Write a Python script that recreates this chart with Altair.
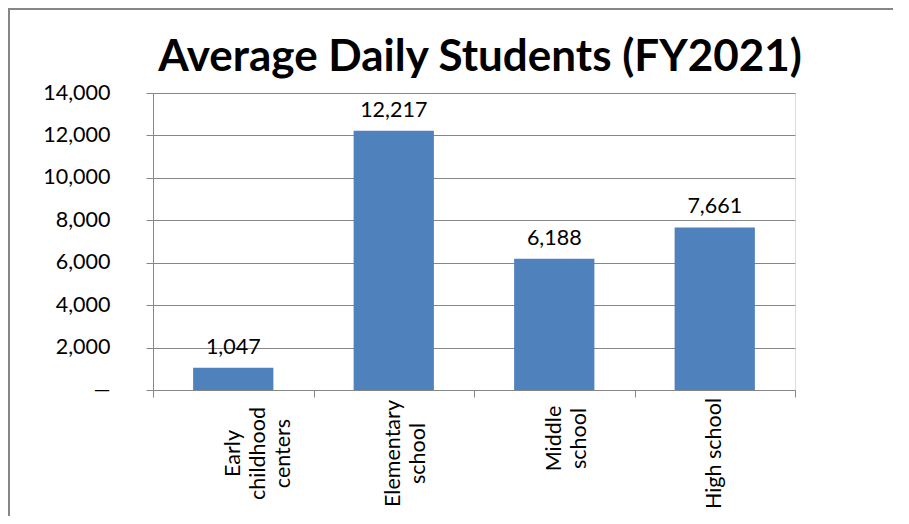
import altair as alt
import pandas as pd

categories = ["Early|childhood|centers", "Elementary|school", "Middle|school", "High school"]
values = [1047, 12217, 6188, 7661]
y_ticks = [0, 2000, 4000, 6000, 8000, 10000, 12000, 14000]

df = pd.DataFrame({"cat": categories, "val": values})
FONT = "Lato"
GRAY = "#868686"
FS = 21.5

base = alt.Chart(df).encode(
    x=alt.X("cat:N", sort=categories, title=None,
            scale=alt.Scale(paddingInner=0, paddingOuter=0),
            axis=alt.Axis(labelAngle=270, labelAlign="center", labelBaseline="middle",
                          labelExpr="split(datum.label, '|')",
                          labelPadding={"condition": {"test": "datum.value == 'Middle|school'", "value": 41}, "value": 56},
                          labelFont=FONT, labelFontSize=FS, labelColor="#000000",
                          labelLineHeight=25, tickBand="extent", tickSize=7,
                          tickColor=GRAY, domainColor=GRAY, grid=False)),
)

bars = base.mark_bar(color="#4F81BD", width=alt.RelativeBandSize(0.5)).encode(
    y=alt.Y("val:Q", title=None,
            scale=alt.Scale(domain=[0, 14000], nice=False),
            axis=alt.Axis(values=y_ticks,
                          labelExpr="datum.value == 0 ? '—' : format(datum.value, ',')",
                          labelFont=FONT, labelFontSize=FS, labelColor="#000000",
                          labelPadding=36, tickSize=7, tickColor=GRAY,
                          domainColor=GRAY, gridColor=GRAY, gridWidth=1))
)

text = base.mark_text(baseline="alphabetic", dy=-14, font=FONT, fontSize=FS, color="#000000").encode(
    y=alt.Y("val:Q"),
    text=alt.Text("val:Q", format=","),
)

frame_top = alt.Chart(df).mark_rule(color=GRAY, strokeWidth=2).encode(
    x=alt.value(-145), x2=alt.value(800), y=alt.value(-84)
)
frame_left = alt.Chart(df).mark_rule(color=GRAY, strokeWidth=2).encode(
    x=alt.value(-144), y=alt.value(-85), y2=alt.value(500)
)

chart = (frame_top + frame_left + bars + text).properties(
    width=642, height=297,
    padding={"left": 145, "top": 85, "right": 98, "bottom": 126},
    autosize="none",
    title=alt.TitleParams("Average Daily Students (FY2021)", font=FONT, fontSize=44,
                          fontWeight="bold", color="#000000", offset=8, anchor="middle",
                          dx=6, dy=81),
).configure_view(stroke=None).configure(background="white")

chart.save("out.html", embed_options={"renderer": "svg", "actions": False})
